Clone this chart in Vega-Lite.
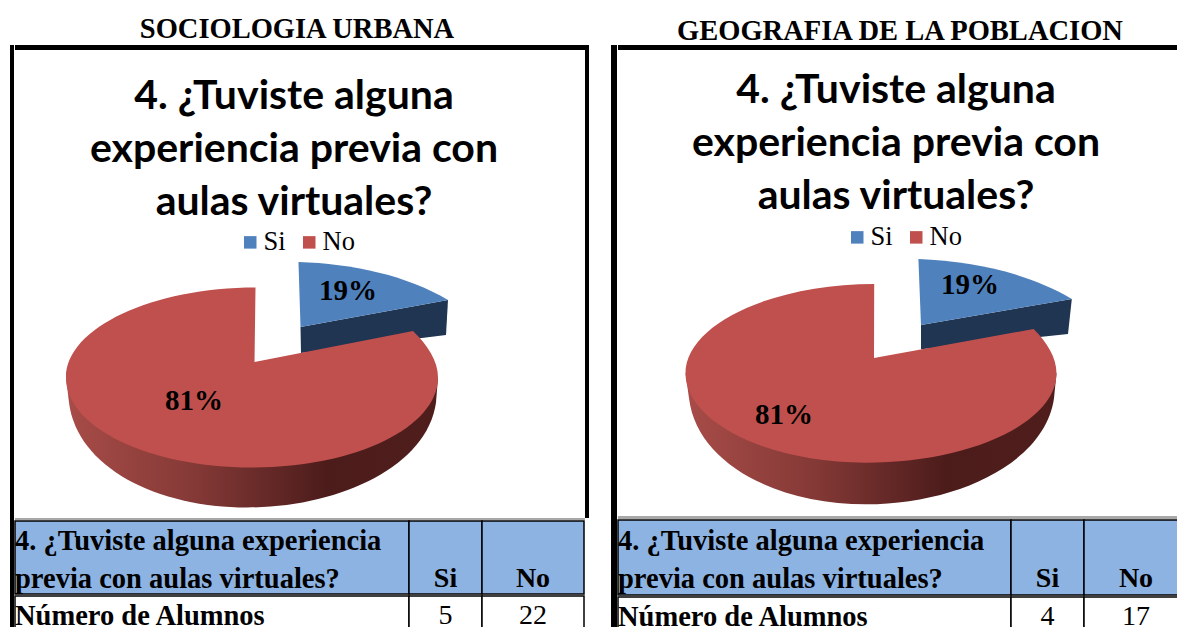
{"$schema":"https://vega.github.io/schema/vega-lite/v6.json","padding":{"left":10,"top":0,"right":0,"bottom":0},"background":"white","config":{"view":{"stroke":null},"concat":{"spacing":0},"text":{"font":"Liberation Serif","color":"#000"}},"datasets":{"vacio":[],"respuestas":[{"materia":"SU","respuesta":"Si","alumnos":5,"porcentaje":"19%"},{"materia":"SU","respuesta":"No","alumnos":22,"porcentaje":"81%"},{"materia":"GP","respuesta":"Si","alumnos":4,"porcentaje":"19%"},{"materia":"GP","respuesta":"No","alumnos":17,"porcentaje":"81%"}],"titulos":[{"materia":"SU","encabezado":"SOCIOLOGIA URBANA","pregunta":"4. ¿Tuviste alguna\nexperiencia previa con\naulas virtuales?"},{"materia":"GP","encabezado":"GEOGRAFIA DE LA POBLACION","pregunta":"4. ¿Tuviste alguna\nexperiencia previa con\naulas virtuales?"}],"tabla":[{"materia":"SU","celda":"pregunta","texto":"4. ¿Tuviste alguna experiencia\nprevia con aulas virtuales?"},{"materia":"SU","celda":"si","texto":"Si"},{"materia":"SU","celda":"no","texto":"No"},{"materia":"SU","celda":"fila","texto":"Número de Alumnos"},{"materia":"SU","celda":"nsi","texto":"5"},{"materia":"SU","celda":"nno","texto":"22"},{"materia":"GP","celda":"pregunta","texto":"4. ¿Tuviste alguna experiencia\nprevia con aulas virtuales?"},{"materia":"GP","celda":"si","texto":"Si"},{"materia":"GP","celda":"no","texto":"No"},{"materia":"GP","celda":"fila","texto":"Número de Alumnos"},{"materia":"GP","celda":"nsi","texto":"4"},{"materia":"GP","celda":"nno","texto":"17"}]},"resolve":{"scale":{"color":"independent"},"legend":{"color":"independent"}},"spacing":22,"hconcat":[
{"spacing":0,"resolve":{"scale":{"color":"independent"},"legend":{"color":"independent"}},"vconcat":[
{"width":578,"height":45,"data":{"name":"titulos"},"transform":[{"filter":"datum.materia=='SU'"}],"mark":{"type":"text","fontSize":28.5,"fontWeight":"bold","dx":-2,"dy":6},"encoding":{"text":{"field":"encabezado"}}},
{"spacing":0,"resolve":{"scale":{"color":"independent"},"legend":{"color":"independent"}},"hconcat":[
{"width":4,"height":589,"view":{"fill":"#000"},"data":{"name":"vacio"},"mark":"text","encoding":{}},
{"spacing":0,"resolve":{"scale":{"color":"independent"},"legend":{"color":"independent"}},"vconcat":[
{"width":570,"height":5,"view":{"fill":"#000"},"data":{"name":"vacio"},"mark":"text","encoding":{}},
{"width":570,"height":468,"data":{"name":"respuestas"},"transform":[{"filter":"datum.materia=='SU'"}],"layer":[
{"transform":[{"filter":"datum.respuesta=='Si'"}],"mark":{"type":"point","filled":true,"opacity":1,"size":4,"fill":"#1F3552","shape":"M48.5,-50.5 L196,-77.5 L194,-42.5 L49,-24.5 Z","xOffset":-48,"yOffset":93.5}},
{"transform":[{"filter":"datum.respuesta=='No'"}],"mark":{"type":"point","filled":true,"opacity":1,"size":4,"fill":{"gradient":"linear","x1":0,"y1":0,"x2":1,"y2":0,"stops":[{"offset":0,"color":"#A84C48"},{"offset":0.35,"color":"#843936"},{"offset":0.7,"color":"#4C1C1B"},{"offset":1,"color":"#4F1E1C"}]},"shape":"M-186,0 L-183,25 C-175,90 -95,130 -5,130 C85,130 175,90 184,25 L186,0 Z","xOffset":-48,"yOffset":93.5}},
{"transform":[{"filter":"datum.respuesta=='Si'"}],"mark":{"type":"point","filled":true,"opacity":1,"size":4,"shape":"M48.5,-50.5 L46.5,-115.5 C100,-114 155,-102 196,-77.5 Z","xOffset":-48,"yOffset":93.5},"encoding":{"color":{"field":"respuesta","type":"nominal","scale":{"domain":["Si","No"],"range":["#4F81BD","#C0504D"]},"legend":{"title":null,"orient":"none","direction":"horizontal","columns":2,"legendX":222,"legendY":179,"symbolType":"square","symbolSize":156,"labelFont":"Liberation Serif","labelFontSize":26.5,"labelColor":"#000","columnPadding":10,"labelOffset":0}}}},
{"transform":[{"filter":"datum.respuesta=='No'"}],"mark":{"type":"point","filled":true,"opacity":1,"size":4,"shape":"M2.5,-15.5 L3.5,-90 C-99,-90 -186,-50 -186,0 C-186,50 -103,90 0,90 C103,90 186,50 186,0 C186,-17 175,-33 161,-46.5 Z","xOffset":-48,"yOffset":93.5},"encoding":{"color":{"field":"respuesta","type":"nominal"}}},
{"transform":[{"filter":"datum.respuesta=='Si'"}],"mark":{"type":"text","fontSize":29,"fontWeight":"bold","dx":48,"dy":7},"encoding":{"text":{"field":"porcentaje"}}},
{"transform":[{"filter":"datum.respuesta=='No'"}],"mark":{"type":"text","fontSize":29,"fontWeight":"bold","dx":-106,"dy":117},"encoding":{"text":{"field":"porcentaje"}}},
{"data":{"name":"titulos"},"transform":[{"filter":"datum.materia=='SU'"}],"mark":{"type":"text","font":"Lato","fontWeight":"bold","fontSize":41,"lineBreak":"\n","lineHeight":53,"dx":-6,"dy":-187},"encoding":{"text":{"field":"pregunta"}}}
]},
{"width":570,"height":2,"view":{"fill":"#A8A8A8"},"data":{"name":"vacio"},"mark":"text","encoding":{}},
{"spacing":0,"bounds":"flush","hconcat":[
{"width":394,"height":73,"view":{"fill":"#8DB3E2","stroke":"#000","strokeWidth":1.5},"data":{"name":"tabla"},"transform":[{"filter":"datum.materia=='SU'&&datum.celda=='pregunta'"}],"mark":{"type":"text","fontSize":28.5,"fontWeight":"bold","align":"left","lineBreak":"\n","lineHeight":38,"dx":-197,"dy":-17},"encoding":{"text":{"field":"texto"}}},
{"width":73,"height":73,"view":{"fill":"#8DB3E2","stroke":"#000","strokeWidth":1.5},"data":{"name":"tabla"},"transform":[{"filter":"datum.materia=='SU'&&datum.celda=='si'"}],"mark":{"type":"text","fontSize":28,"fontWeight":"bold","dy":21},"encoding":{"text":{"field":"texto"}}},
{"width":102,"height":73,"view":{"fill":"#8DB3E2","stroke":"#000","strokeWidth":1.5},"data":{"name":"tabla"},"transform":[{"filter":"datum.materia=='SU'&&datum.celda=='no'"}],"mark":{"type":"text","fontSize":28,"fontWeight":"bold","dy":21},"encoding":{"text":{"field":"texto"}}}
]},
{"spacing":0,"bounds":"flush","hconcat":[
{"width":394,"height":40,"view":{"fill":"#fff","stroke":"#000","strokeWidth":1.5},"data":{"name":"tabla"},"transform":[{"filter":"datum.materia=='SU'&&datum.celda=='fila'"}],"mark":{"type":"text","fontSize":28.5,"fontWeight":"bold","align":"left","dx":-197,"dy":0},"encoding":{"text":{"field":"texto"}}},
{"width":73,"height":40,"view":{"fill":"#fff","stroke":"#000","strokeWidth":1.5},"data":{"name":"tabla"},"transform":[{"filter":"datum.materia=='SU'&&datum.celda=='nsi'"}],"mark":{"type":"text","fontSize":28},"encoding":{"text":{"field":"texto"}}},
{"width":102,"height":40,"view":{"fill":"#fff","stroke":"#000","strokeWidth":1.5},"data":{"name":"tabla"},"transform":[{"filter":"datum.materia=='SU'&&datum.celda=='nno'"}],"mark":{"type":"text","fontSize":28},"encoding":{"text":{"field":"texto"}}}
]}
]},
{"width":4,"height":473,"view":{"fill":"#000"},"data":{"name":"vacio"},"mark":"text","encoding":{}}
]}
]},
{"spacing":0,"resolve":{"scale":{"color":"independent"},"legend":{"color":"independent"}},"vconcat":[
{"width":578,"height":43,"data":{"name":"titulos"},"transform":[{"filter":"datum.materia=='GP'"}],"mark":{"type":"text","fontSize":28.5,"fontWeight":"bold","dy":9},"encoding":{"text":{"field":"encabezado"}}},
{"spacing":0,"resolve":{"scale":{"color":"independent"},"legend":{"color":"independent"}},"hconcat":[
{"width":6,"height":590,"view":{"fill":"#000"},"data":{"name":"vacio"},"mark":"text","encoding":{}},
{"spacing":0,"resolve":{"scale":{"color":"independent"},"legend":{"color":"independent"}},"vconcat":[
{"width":572,"height":5,"view":{"fill":"#000"},"data":{"name":"vacio"},"mark":"text","encoding":{}},
{"width":572,"height":466,"data":{"name":"respuestas"},"transform":[{"filter":"datum.materia=='GP'"}],"layer":[
{"transform":[{"filter":"datum.respuesta=='Si'"}],"mark":{"type":"point","filled":true,"opacity":1,"size":4,"fill":"#1F3552","shape":"M50,-48.3 L200.8,-74.3 L197,-39.3 L50,-24 Z","xOffset":-33,"yOffset":90.3}},
{"transform":[{"filter":"datum.respuesta=='No'"}],"mark":{"type":"point","filled":true,"opacity":1,"size":4,"fill":{"gradient":"linear","x1":0,"y1":0,"x2":1,"y2":0,"stops":[{"offset":0,"color":"#A84C48"},{"offset":0.35,"color":"#843936"},{"offset":0.7,"color":"#4C1C1B"},{"offset":1,"color":"#4F1E1C"}]},"shape":"M-185.5,0 L-182,25 C-174,90 -95,131 -5,131 C85,131 174,90 183,25 L185.5,0 Z","xOffset":-33,"yOffset":90.3}},
{"transform":[{"filter":"datum.respuesta=='Si'"}],"mark":{"type":"point","filled":true,"opacity":1,"size":4,"shape":"M50,-48.3 L47.4,-114.3 C103,-112 158,-100 200.8,-74.3 Z","xOffset":-33,"yOffset":90.3},"encoding":{"color":{"field":"respuesta","type":"nominal","scale":{"domain":["Si","No"],"range":["#4F81BD","#C0504D"]},"legend":{"title":null,"orient":"none","direction":"horizontal","columns":2,"legendX":226,"legendY":174,"symbolType":"square","symbolSize":156,"labelFont":"Liberation Serif","labelFontSize":26.5,"labelColor":"#000","columnPadding":10,"labelOffset":0}}}},
{"transform":[{"filter":"datum.respuesta=='No'"}],"mark":{"type":"point","filled":true,"opacity":1,"size":4,"shape":"M3,-15.3 L3.2,-89.4 C-99,-89.4 -185.5,-49 -185.5,0 C-185.5,49 -103,89.4 -6,89.4 C100,89.4 185.5,49 185.5,0 C185.5,-16 176,-31 162.6,-44.3 Z","xOffset":-33,"yOffset":90.3},"encoding":{"color":{"field":"respuesta","type":"nominal"}}},
{"transform":[{"filter":"datum.respuesta=='Si'"}],"mark":{"type":"text","fontSize":29,"fontWeight":"bold","dx":66,"dy":2},"encoding":{"text":{"field":"porcentaje"}}},
{"transform":[{"filter":"datum.respuesta=='No'"}],"mark":{"type":"text","fontSize":29,"fontWeight":"bold","dx":-120,"dy":132},"encoding":{"text":{"field":"porcentaje"}}},
{"data":{"name":"titulos"},"transform":[{"filter":"datum.materia=='GP'"}],"mark":{"type":"text","font":"Lato","fontWeight":"bold","fontSize":41,"lineBreak":"\n","lineHeight":53,"dx":-8,"dy":-192},"encoding":{"text":{"field":"pregunta"}}}
]},
{"width":572,"height":3,"view":{"fill":"#A8A8A8"},"data":{"name":"vacio"},"mark":"text","encoding":{}},
{"spacing":0,"bounds":"flush","hconcat":[
{"width":393,"height":75,"view":{"fill":"#8DB3E2","stroke":"#000","strokeWidth":1.5},"data":{"name":"tabla"},"transform":[{"filter":"datum.materia=='GP'&&datum.celda=='pregunta'"}],"mark":{"type":"text","fontSize":28.5,"fontWeight":"bold","align":"left","lineBreak":"\n","lineHeight":38,"dx":-196.5,"dy":-17},"encoding":{"text":{"field":"texto"}}},
{"width":73,"height":75,"view":{"fill":"#8DB3E2","stroke":"#000","strokeWidth":1.5},"data":{"name":"tabla"},"transform":[{"filter":"datum.materia=='GP'&&datum.celda=='si'"}],"mark":{"type":"text","fontSize":28,"fontWeight":"bold","dy":21},"encoding":{"text":{"field":"texto"}}},
{"width":106,"height":75,"view":{"fill":"#8DB3E2","stroke":"#000","strokeWidth":1.5},"data":{"name":"tabla"},"transform":[{"filter":"datum.materia=='GP'&&datum.celda=='no'"}],"mark":{"type":"text","fontSize":28,"fontWeight":"bold","dy":21,"dx":-1},"encoding":{"text":{"field":"texto"}}}
]},
{"spacing":0,"bounds":"flush","hconcat":[
{"width":393,"height":40,"view":{"fill":"#fff","stroke":"#000","strokeWidth":1.5},"data":{"name":"tabla"},"transform":[{"filter":"datum.materia=='GP'&&datum.celda=='fila'"}],"mark":{"type":"text","fontSize":28.5,"fontWeight":"bold","align":"left","dx":-196.5,"dy":0},"encoding":{"text":{"field":"texto"}}},
{"width":73,"height":40,"view":{"fill":"#fff","stroke":"#000","strokeWidth":1.5},"data":{"name":"tabla"},"transform":[{"filter":"datum.materia=='GP'&&datum.celda=='nsi'"}],"mark":{"type":"text","fontSize":28,"dy":0},"encoding":{"text":{"field":"texto"}}},
{"width":106,"height":40,"view":{"fill":"#fff","stroke":"#000","strokeWidth":1.5},"data":{"name":"tabla"},"transform":[{"filter":"datum.materia=='GP'&&datum.celda=='nno'"}],"mark":{"type":"text","fontSize":28,"dy":0,"dx":-1},"encoding":{"text":{"field":"texto"}}}
]}
]}
]}
]}
]}
